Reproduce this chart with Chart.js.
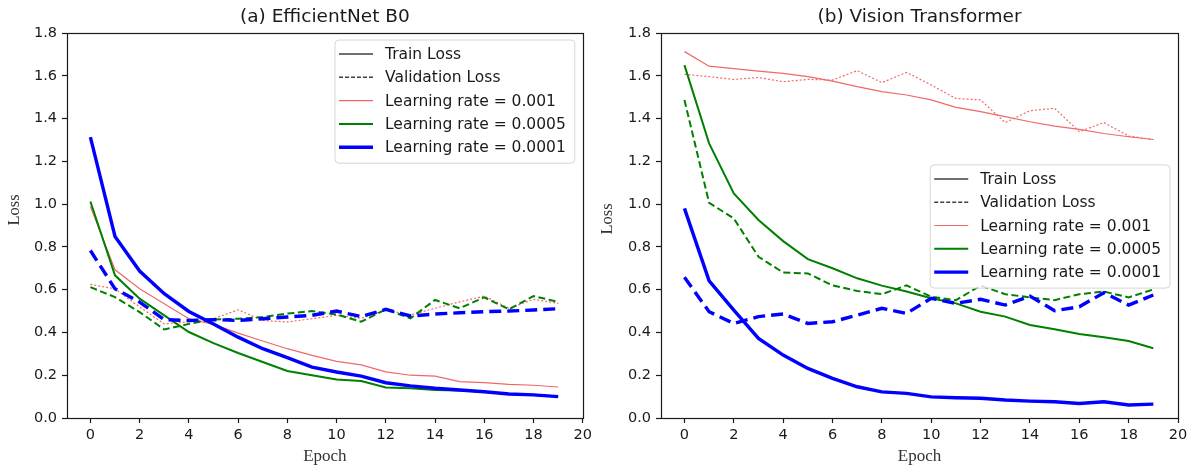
<!DOCTYPE html>
<html>
<head>
<meta charset="utf-8">
<script src="https://cdn.jsdelivr.net/npm/chart.js@4.4.1/dist/chart.umd.min.js"></script>
<style>
  html, body { margin: 0; padding: 0; background: #fff; }
  #wrap { position: relative; width: 1193px; height: 468px; overflow: hidden; }
  canvas { position: absolute; top: 0; }
</style>
</head>
<body>
<div id="wrap">
  <canvas id="effnet" width="596" height="468" style="left:0"></canvas>
  <canvas id="vit" width="597" height="468" style="left:596px"></canvas>
</div>
<script>
// ---- data ----
const epochs = [0, 1, 2, 3, 4, 5, 6, 7, 8, 9, 10, 11, 12, 13, 14, 15, 16, 17, 18, 19];
const xTicks = [0, 2, 4, 6, 8, 10, 12, 14, 16, 18, 20];
const yTicks = [0, 0.2, 0.4, 0.6, 0.8, 1.0, 1.2, 1.4, 1.6, 1.8];
const lrLabels = ['Learning rate = 0.001', 'Learning rate = 0.0005', 'Learning rate = 0.0001'];
const lossLabels = ['Train Loss', 'Validation Loss'];

// (a) EfficientNet B0
const effTrain001 = [0.989, 0.693, 0.604, 0.534, 0.464, 0.438, 0.397, 0.360, 0.324, 0.293, 0.265, 0.248, 0.216, 0.200, 0.196, 0.170, 0.165, 0.157, 0.153, 0.145];
const effVal001 = [0.625, 0.604, 0.519, 0.440, 0.449, 0.464, 0.506, 0.456, 0.449, 0.464, 0.480, 0.466, 0.505, 0.482, 0.513, 0.543, 0.570, 0.513, 0.555, 0.536];
const effTrain0005 = [1.012, 0.667, 0.558, 0.480, 0.402, 0.350, 0.304, 0.262, 0.220, 0.200, 0.180, 0.173, 0.143, 0.139, 0.131, 0.128, 0.123, 0.112, 0.108, 0.100];
const effVal0005 = [0.612, 0.565, 0.495, 0.414, 0.440, 0.461, 0.464, 0.472, 0.488, 0.500, 0.484, 0.450, 0.508, 0.466, 0.552, 0.513, 0.564, 0.508, 0.570, 0.543];
const effTrain0001 = [1.313, 0.849, 0.687, 0.581, 0.498, 0.440, 0.378, 0.324, 0.282, 0.238, 0.215, 0.196, 0.165, 0.150, 0.139, 0.131, 0.123, 0.112, 0.108, 0.100];
const effVal0001 = [0.783, 0.604, 0.542, 0.460, 0.456, 0.460, 0.456, 0.464, 0.472, 0.480, 0.500, 0.474, 0.508, 0.477, 0.486, 0.492, 0.497, 0.500, 0.505, 0.511];

// (b) Vision Transformer
const vitTrain001 = [1.713, 1.645, 1.633, 1.622, 1.611, 1.596, 1.575, 1.549, 1.526, 1.510, 1.487, 1.452, 1.432, 1.409, 1.385, 1.365, 1.349, 1.330, 1.315, 1.302];
const vitVal001 = [1.607, 1.596, 1.583, 1.592, 1.572, 1.583, 1.580, 1.624, 1.568, 1.616, 1.557, 1.494, 1.487, 1.381, 1.437, 1.448, 1.339, 1.381, 1.318, 1.302];
const vitTrain0005 = [1.650, 1.284, 1.050, 0.926, 0.827, 0.743, 0.700, 0.653, 0.619, 0.591, 0.560, 0.536, 0.497, 0.474, 0.435, 0.415, 0.393, 0.377, 0.360, 0.326];
const vitVal0005 = [1.487, 1.006, 0.933, 0.754, 0.680, 0.676, 0.620, 0.594, 0.579, 0.620, 0.567, 0.551, 0.619, 0.579, 0.564, 0.551, 0.579, 0.591, 0.564, 0.601];
const vitTrain0001 = [0.980, 0.641, 0.504, 0.372, 0.294, 0.232, 0.185, 0.146, 0.122, 0.115, 0.099, 0.095, 0.092, 0.084, 0.079, 0.076, 0.068, 0.076, 0.061, 0.065];
const vitVal0001 = [0.658, 0.497, 0.442, 0.474, 0.486, 0.442, 0.450, 0.481, 0.513, 0.489, 0.560, 0.536, 0.555, 0.528, 0.570, 0.502, 0.520, 0.586, 0.528, 0.575];

// ---- styles ----
const lrColors = ['#f06868', '#008000', '#0000ff'];
const lrWidths = [1.2, 2, 3.4];
const valDashes = [[2, 2], [7, 3.5], [12, 6]];
const inkColor = '#1a1a1a';
const tickFont = { family: 'DejaVu Sans', size: 14.5 };

function toPoints(values) {
  return values.map((v, i) => ({ x: epochs[i], y: v }));
}

function buildDatasets(trains, vals) {
  const sets = [];
  for (let k = 0; k < 3; k++) {
    const common = {
      borderColor: lrColors[k],
      borderWidth: lrWidths[k],
      pointRadius: 0,
      tension: 0,
      fill: false,
      order: 3 - k,
    };
    sets.push({ ...common, label: lrLabels[k] + ' train', data: toPoints(trains[k]) });
    sets.push({ ...common, label: lrLabels[k] + ' val', data: toPoints(vals[k]), borderDash: valDashes[k] });
  }
  return sets;
}

// matplotlib-like framed legend inside the axes
const boxLegend = {
  id: 'boxLegend',
  afterDatasetsDraw(chart, args, opts) {
    const { ctx, chartArea: a } = chart;
    const entries = [
      { text: lossLabels[0], color: '#404040', width: 1.5, dash: [] },
      { text: lossLabels[1], color: '#404040', width: 1.5, dash: [4, 2] },
      { text: lrLabels[0], color: lrColors[0], width: lrWidths[0], dash: [] },
      { text: lrLabels[1], color: lrColors[1], width: lrWidths[1], dash: [] },
      { text: lrLabels[2], color: lrColors[2], width: lrWidths[2], dash: [] },
    ];
    ctx.save();
    ctx.font = '15.5px "DejaVu Sans"';
    const textW = Math.max(...entries.map(e => ctx.measureText(e.text).width));
    const rowH = 23.3;
    const w = 4 + 34 + 12 + textW + 9;
    const h = 14 + rowH * 4 + 16;
    const x = a.right - 8 - w;
    const y = opts.place === 'top' ? a.top + 7 : (a.top + a.bottom) / 2 - h / 2 + 1;

    ctx.beginPath();
    ctx.roundRect(x, y, w, h, 4);
    ctx.fillStyle = 'rgba(255,255,255,0.8)';
    ctx.fill();
    ctx.lineWidth = 1;
    ctx.strokeStyle = '#d6d6d6';
    ctx.stroke();

    entries.forEach((e, i) => {
      const yc = y + 14 + i * rowH;
      ctx.beginPath();
      ctx.setLineDash(e.dash);
      ctx.lineWidth = e.width;
      ctx.strokeStyle = e.color;
      ctx.moveTo(x + 4, yc);
      ctx.lineTo(x + 38, yc);
      ctx.stroke();
      ctx.setLineDash([]);
      ctx.fillStyle = inkColor;
      ctx.textAlign = 'left';
      ctx.textBaseline = 'middle';
      ctx.fillText(e.text, x + 50, yc + 1);
    });
    ctx.restore();
  }
};

// axes frame, panel title and y label
const panelDecor = {
  id: 'panelDecor',
  afterDraw(chart, args, opts) {
    const { ctx, chartArea: a } = chart;
    ctx.save();
    ctx.strokeStyle = inkColor;
    ctx.lineWidth = 1.2;
    ctx.strokeRect(Math.round(a.left) + 0.5, Math.round(a.top) + 0.5,
      Math.round(a.right - a.left), Math.round(a.bottom - a.top));

    ctx.fillStyle = inkColor;
    ctx.textAlign = 'center';
    ctx.textBaseline = 'middle';
    ctx.font = '18.5px "DejaVu Sans"';
    ctx.fillText(opts.title, (a.left + a.right) / 2, 17);

    ctx.translate(opts.yLabelX, opts.yLabelY);
    ctx.rotate(-Math.PI / 2);
    ctx.font = '16.5px "Liberation Serif"';
    ctx.fillStyle = '#333';
    ctx.fillText('Loss', 0, 0);
    ctx.restore();
  }
};

function makeChart(id, title, trains, vals, opts) {
  const axisGrid = {
    drawOnChartArea: false,
    drawTicks: true,
    tickLength: 5,
    tickColor: inkColor,
    tickWidth: 1.2,
  };
  return new Chart(document.getElementById(id), {
    type: 'line',
    data: { datasets: buildDatasets(trains, vals) },
    options: {
      responsive: false,
      animation: false,
      devicePixelRatio: 1,
      layout: { padding: { top: 33, right: opts.padRight, bottom: 0, left: 0 } },
      plugins: {
        legend: { display: false },
        tooltip: { enabled: false },
        boxLegend: { place: opts.legendPlace },
        panelDecor: { title: title, yLabelX: opts.yLabelX, yLabelY: opts.yLabelY },
      },
      scales: {
        x: {
          type: 'linear',
          min: -0.95,
          max: 20,
          afterBuildTicks: s => { s.ticks = xTicks.map(v => ({ value: v })); },
          afterFit: s => { s.height = 50; },
          grid: axisGrid,
          border: { display: false },
          ticks: { font: tickFont, color: inkColor, padding: 4, maxRotation: 0, autoSkip: false },
          title: {
            display: true,
            text: 'Epoch',
            font: { family: 'Liberation Serif', size: 17 },
            color: '#333',
            padding: { top: 0, bottom: 1 },
          },
        },
        y: {
          min: 0,
          max: 1.8,
          afterBuildTicks: s => { s.ticks = yTicks.map(v => ({ value: v })); },
          afterFit: s => { s.width = opts.yWidth; },
          grid: axisGrid,
          border: { display: false },
          ticks: {
            font: tickFont,
            color: inkColor,
            padding: 5,
            callback: v => Number(v).toFixed(1),
          },
        },
      },
    },
    plugins: [boxLegend, panelDecor],
  });
}

window.effChart = makeChart('effnet', '(a) EfficientNet B0',
  [effTrain001, effTrain0005, effTrain0001],
  [effVal001, effVal0005, effVal0001],
  { padRight: 12, yWidth: 67, legendPlace: 'top', yLabelX: 15, yLabelY: 210 });

window.vitChart = makeChart('vit', '(b) Vision Transformer',
  [vitTrain001, vitTrain0005, vitTrain0001],
  [vitVal001, vitVal0005, vitVal0001],
  { padRight: 15, yWidth: 65, legendPlace: 'center', yLabelX: 12, yLabelY: 219 });
</script>
</body>
</html>
